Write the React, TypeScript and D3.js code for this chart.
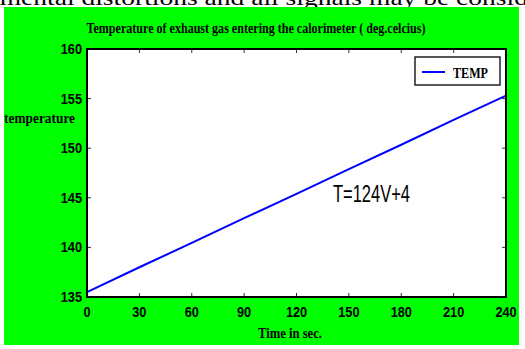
import React from 'react'
import * as d3 from 'd3'

// time in seconds and exhaust gas temperature (deg C)
const times = [0, 30, 60, 90, 120, 150, 180, 210, 240]
const temps = [135.5, 138.0, 140.45, 142.95, 145.4, 147.9, 150.35, 152.85, 155.3]
const xTicks = [0, 30, 60, 90, 120, 150, 180, 210, 240]
const yTicks = [135, 140, 145, 150, 155, 160]

const title = 'Temperature of exhaust gas entering the calorimeter ( deg.celcius)'
const seriesName = 'TEMP'
const equation = 'T=124V+4'

const numFont = "'Liberation Sans', Arial, sans-serif"
const serif = "'Liberation Serif', 'Times New Roman', serif"

export default function App() {
  const left = 87, right = 506, top = 49, bottom = 297

  const x = d3.scaleLinear().domain([0, 240]).range([left, right])
  const y = d3.scaleLinear().domain([135, 160]).range([bottom, top])

  const path = d3.line<number>()
    .x((_, i) => x(times[i]))
    .y(d => y(d))(temps)

  // narrow bold digits like the original
  const num = (t: number, px: number, py: number, anchor: string) => (
    <text transform={`translate(${px},${py}) scale(0.85,1)`} textAnchor={anchor}
      fontFamily={numFont} fontWeight="bold" fontSize={15}>{t}</text>
  )

  return (
    <svg width={525} height={349} style={{ position: 'absolute', left: 0, top: 0, background: '#fff' }}>
      {/* cut off page text above the figure */}
      <text x={-8} y={5} fontFamily={serif} fontSize={22} textLength={536} lengthAdjust="spacingAndGlyphs">
        imental distortions and all signals may  be consid
      </text>
      <rect x={4} y={7} width={515} height={338} fill="#00ff00" />

      <text x={256} y={33} textAnchor="middle" fontFamily={serif} fontWeight="bold" fontSize={15}
        textLength={339} lengthAdjust="spacingAndGlyphs">{title}</text>

      <rect x={left} y={top} width={right - left} height={bottom - top} fill="#fff" />

      {xTicks.map(t => (
        <g key={'x' + t}>
          <line x1={x(t)} x2={x(t)} y1={bottom} y2={bottom - 4} stroke="#333" />
          <line x1={x(t)} x2={x(t)} y1={top} y2={top + 4} stroke="#333" />
          {num(t, x(t), 317, 'middle')}
        </g>
      ))}
      {yTicks.map(t => (
        <g key={'y' + t}>
          <line x1={left} x2={left + 4} y1={y(t)} y2={y(t)} stroke="#333" />
          <line x1={right} x2={right - 4} y1={y(t)} y2={y(t)} stroke="#333" />
          {num(t, 82, y(t) + 5, 'end')}
        </g>
      ))}

      <path d={path ?? ''} fill="none" stroke="#0000ff" strokeWidth={2} />

      <rect x={left} y={top} width={right - left} height={bottom - top} fill="none" stroke="#000" strokeWidth={2} />

      {/* legend */}
      <rect x={415} y={57} width={85} height={28} fill="#fff" stroke="#222" strokeWidth={1.5} />
      <line x1={422} x2={445} y1={72} y2={72} stroke="#0000ff" strokeWidth={2} />
      <text x={453} y={78} fontFamily={serif} fontWeight="bold" fontSize={15} textLength={35}
        lengthAdjust="spacingAndGlyphs">{seriesName}</text>

      <text x={333} y={202} fontFamily={numFont} fontSize={23} textLength={77}
        lengthAdjust="spacingAndGlyphs">{equation}</text>

      <text x={4} y={123} fontFamily={serif} fontWeight="bold" fontSize={15} textLength={71}
        lengthAdjust="spacingAndGlyphs">temperature</text>
      <text x={258} y={338} fontFamily={serif} fontWeight="bold" fontSize={15} textLength={64}
        lengthAdjust="spacingAndGlyphs">Time in sec.</text>
    </svg>
  )
}
